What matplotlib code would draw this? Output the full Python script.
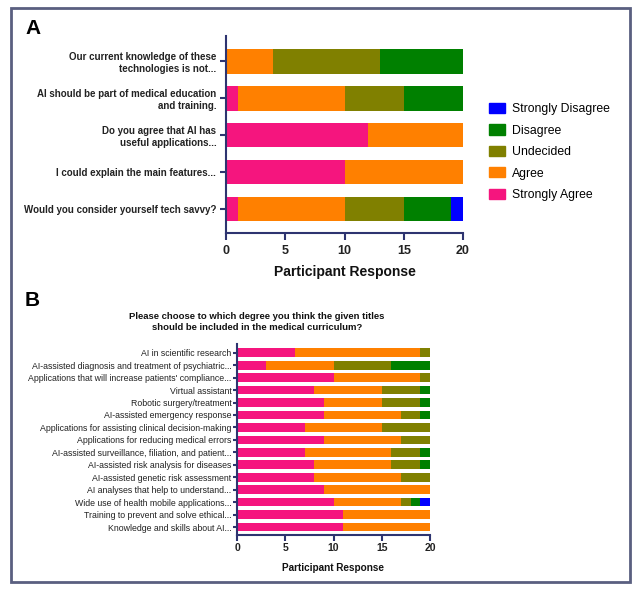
import matplotlib
matplotlib.use("Agg")
import matplotlib.pyplot as plt
from matplotlib.patches import Rectangle, Patch
import numpy as np

plt.rcParams['font.family'] = ['Liberation Sans', 'DejaVu Sans']

levels = ["Strongly Agree", "Agree", "Undecided", "Disagree", "Strongly Disagree"]
colors = ["#F5157E", "#FF8000", "#808000", "#008000", "#0000FF"]

# panel A, rows listed top to bottom
a_labels = [
    "Our current knowledge of these\ntechnologies is not...",
    "AI should be part of medical education\nand training.",
    "Do you agree that AI has\nuseful applications...",
    "I could explain the main features...",
    "Would you consider yourself tech savvy?",
]
a_strongly_agree = [0, 1, 12, 10, 1]
a_agree = [4, 9, 8, 10, 9]
a_undecided = [9, 5, 0, 0, 5]
a_disagree = [7, 5, 0, 0, 4]
a_strongly_disagree = [0, 0, 0, 0, 1]

# panel B, rows listed top to bottom
b_labels = [
    "AI in scientific research",
    "AI-assisted diagnosis and treatment of psychiatric...",
    "Applications that will increase patients' compliance...",
    "Virtual assistant",
    "Robotic surgery/treatment",
    "AI-assisted emergency response",
    "Applications for assisting clinical decision-making",
    "Applications for reducing medical errors",
    "AI-assisted surveillance, filiation, and patient...",
    "AI-assisted risk analysis for diseases",
    "AI-assisted genetic risk assessment",
    "AI analyses that help to understand...",
    "Wide use of health mobile applications...",
    "Training to prevent and solve ethical...",
    "Knowledge and skills about AI...",
]
b_strongly_agree = [6, 3, 10, 8, 9, 9, 7, 9, 7, 8, 8, 9, 10, 11, 11]
b_agree = [13, 7, 9, 7, 6, 8, 8, 8, 9, 8, 9, 11, 7, 9, 9]
b_undecided = [1, 6, 1, 4, 4, 2, 5, 3, 3, 3, 3, 0, 1, 0, 0]
b_disagree = [0, 4, 0, 1, 1, 1, 0, 0, 1, 1, 0, 0, 1, 0, 0]
b_strongly_disagree = [0, 0, 0, 0, 0, 0, 0, 0, 0, 0, 0, 0, 1, 0, 0]

x_ticks = [0, 5, 10, 15, 20]
spine_color = "#2E3470"
text_color = "#222222"

W, H = 639, 592


def ax_rect(x0, y0, x1, y1):
    return [x0 / W, 1 - y1 / H, (x1 - x0) / W, (y1 - y0) / H]


def stacked(ax, labels, series, height, label_size, label_weight):
    y = np.arange(len(labels))[::-1]
    left = np.zeros(len(labels))
    for vals, col, name in zip(series, colors, levels):
        vals = np.array(vals, dtype=float)
        ax.barh(y, vals, left=left, height=height, color=col, label=name,
                linewidth=0)
        left += vals
    ax.set_yticks(y)
    ax.set_yticklabels(labels, fontsize=label_size, fontweight=label_weight)
    ax.set_xlim(0, 20)
    ax.set_xticks(x_ticks)
    for s in ["top", "right"]:
        ax.spines[s].set_visible(False)
    for s in ["left", "bottom"]:
        ax.spines[s].set_color(spine_color)
        ax.spines[s].set_linewidth(1.5)
    ax.tick_params(color=spine_color, labelcolor=text_color, width=1.5,
                   direction="out")


fig = plt.figure(figsize=(W / 100, H / 100), dpi=100)

# panel A
axA = fig.add_axes(ax_rect(226, 36, 463, 233))
stacked(axA, a_labels,
        [a_strongly_agree, a_agree, a_undecided, a_disagree, a_strongly_disagree],
        0.66, 7, "bold")
axA.set_ylim(-0.65, 4.69)
axA.tick_params(axis="y", length=4, pad=3)
axA.tick_params(axis="x", length=5, labelsize=9)
for t in axA.get_xticklabels():
    t.set_fontweight("bold")
axA.set_xlabel("Participant Response", fontsize=10, fontweight="bold",
               labelpad=6, color="#111111")

handles = [Patch(color=c, label=n) for c, n in zip(colors, levels)][::-1]
fig.legend(handles=handles, loc="center left",
           bbox_to_anchor=(478 / W, 1 - 152 / H), frameon=False, fontsize=8.8,
           handlelength=1.3, handleheight=0.9, handletextpad=0.6,
           labelspacing=0.75)

fig.text(25 / W, 1 - 28 / H, "A", fontsize=15, fontweight="bold", va="center")

# panel B
axB = fig.add_axes(ax_rect(237, 344, 430, 535))
stacked(axB, b_labels,
        [b_strongly_agree, b_agree, b_undecided, b_disagree, b_strongly_disagree],
        0.7, 6.3, "normal")
axB.set_ylim(-0.64, 14.7)
axB.tick_params(axis="y", length=3, pad=1)
axB.tick_params(axis="x", length=4, labelsize=7.5, pad=2)
for t in axB.get_xticklabels():
    t.set_fontweight("bold")
axB.set_xlabel("Participant Response", fontsize=7.2, fontweight="bold",
               labelpad=7, color="#111111")

fig.text(257 / W, 1 - 322 / H,
         "Please choose to which degree you think the given titles\n"
         "should be included in the medical curriculum?",
         fontsize=6.8, fontweight="bold", ha="center", va="center",
         linespacing=1.3, color="#111111")

fig.text(25 / W, 1 - 300 / H, "B", fontsize=15, fontweight="bold", va="center")

# outer frame
fig.patches.append(Rectangle((11 / W, 1 - 582 / H), (630 - 11) / W, (582 - 8) / H,
                             transform=fig.transFigure, fill=False,
                             edgecolor="#5A5F80", linewidth=2))

fig.savefig("out.png", dpi=100)
